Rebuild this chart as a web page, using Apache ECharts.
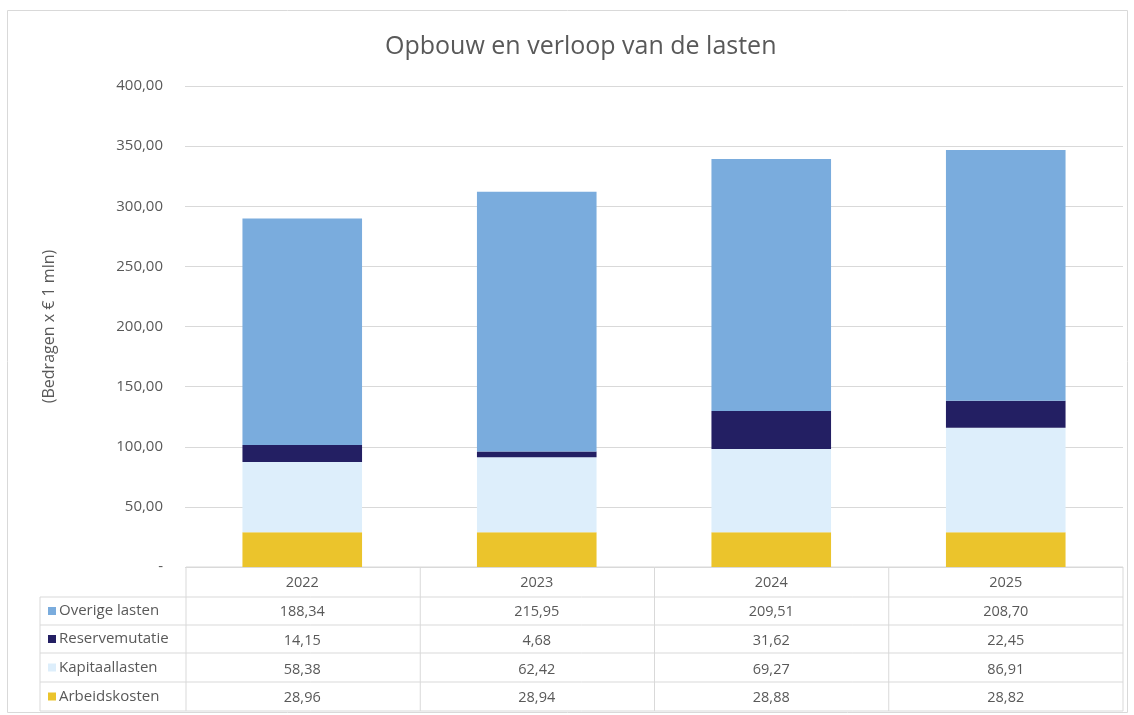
<!DOCTYPE html>
<html>
<head>
<meta charset="utf-8">
<script src="https://cdn.jsdelivr.net/npm/echarts@6/dist/echarts.min.js"></script>
<style>
    html, body { margin: 0; padding: 0; background: #fff; }
    #chart { width: 1134px; height: 715px; }
</style>
</head>
<body>
<div id="chart"></div>
<script>
// gegevens
var years = ['2022', '2023', '2024', '2025'];
var arbeidskosten = [28.96, 28.94, 28.88, 28.82];
var kapitaallasten = [58.38, 62.42, 69.27, 86.91];
var reservemutatie = [14.15, 4.68, 31.62, 22.45];
var overigeLasten = [188.34, 215.95, 209.51, 208.70];

var seriesNames = ['Arbeidskosten', 'Kapitaallasten', 'Reservemutatie', 'Overige lasten'];
var seriesData = [arbeidskosten, kapitaallasten, reservemutatie, overigeLasten];
var colors = ['#ebc42c', '#ddeefb', '#231f63', '#7aacdd'];

var FONT = '"Open Sans", sans-serif';
var TXT = '#595959';
var LINE = '#d9d9d9';

function fmt(v) {
    return v.toFixed(2).replace('.', ',');
}

var myChart = echarts.init(document.getElementById('chart'));

// tabel onder de grafiek: eerst jaartal, dan waarden van boven naar beneden
var rowOrder = [3, 2, 1, 0];

var series = seriesNames.map(function (name, i) {
    return {
        name: name,
        type: 'bar',
        stack: 'lasten',
        barWidth: '51%',
        itemStyle: { color: colors[i] },
        data: seriesData[i]
    };
});

// tabellijnen en rijkoppen
var graphics = [];
var gx0 = 40, gx1 = 186, gx2 = 1123;
var rowsY = [567, 597, 625, 653, 682, 711];
graphics.push({ type: 'line', shape: { x1: gx1, y1: 567, x2: gx2, y2: 567 }, style: { stroke: LINE, lineWidth: 1 } });
for (var r = 1; r < rowsY.length; r++) {
    graphics.push({ type: 'line', shape: { x1: gx0, y1: rowsY[r], x2: gx2, y2: rowsY[r] }, style: { stroke: LINE, lineWidth: 1 } });
}
graphics.push({ type: 'line', shape: { x1: gx0, y1: 597, x2: gx0, y2: 711 }, style: { stroke: LINE, lineWidth: 1 } });
for (var c = 0; c <= years.length; c++) {
    var cx = gx1 + (gx2 - gx1) * c / years.length;
    graphics.push({ type: 'line', shape: { x1: cx, y1: 567, x2: cx, y2: 711 }, style: { stroke: LINE, lineWidth: 1 } });
}
rowOrder.forEach(function (si, k) {
    var yMid = (rowsY[k + 1] + rowsY[k + 2]) / 2;
    graphics.push({ type: 'rect', shape: { x: 48, y: yMid - 4, width: 8, height: 8 }, style: { fill: colors[si] } });
    graphics.push({
        type: 'text', x: 59, y: yMid,
        style: { text: seriesNames[si], fill: TXT, font: '15px ' + FONT, textVerticalAlign: 'middle' }
    });
});
// kader rond de grafiek
graphics.push({ type: 'rect', shape: { x: 7.5, y: 10.5, width: 1120, height: 702 }, style: { fill: 'none', stroke: LINE, lineWidth: 1 } });

var option = {
    animation: false,
    title: {
        text: 'Opbouw en verloop van de lasten',
        left: 380,
        top: 29,
        textStyle: { fontFamily: FONT, fontSize: 25, fontWeight: 'normal', color: TXT }
    },
    grid: { left: 185, right: 11, top: 86, bottom: 148, outerBoundsMode: 'none', containLabel: false },
    xAxis: {
        type: 'category',
        data: years,
        axisLine: { show: false },
        axisTick: { show: false },
        axisLabel: {
            margin: 2,
            fontFamily: FONT,
            fontSize: 14.5,
            color: TXT,
            lineHeight: 28.7,
            formatter: function (val, idx) {
                var lines = [val];
                rowOrder.forEach(function (si) { lines.push(fmt(seriesData[si][idx])); });
                return lines.join('\n');
            }
        }
    },
    yAxis: {
        type: 'value',
        min: 0,
        max: 400,
        interval: 50,
        name: '(Bedragen x € 1 mln)',
        nameLocation: 'middle',
        nameGap: 128,
        nameTextStyle: { fontFamily: FONT, fontSize: 16, color: TXT },
        axisLine: { show: false },
        axisTick: { show: false },
        splitLine: { lineStyle: { color: LINE, width: 1 } },
        axisLabel: {
            margin: 22,
            fontFamily: FONT,
            fontSize: 15,
            color: TXT,
            formatter: function (v) { return v === 0 ? '-' : fmt(v); }
        }
    },
    graphic: graphics,
    series: series
};

myChart.setOption(option);
</script>
</body>
</html>
